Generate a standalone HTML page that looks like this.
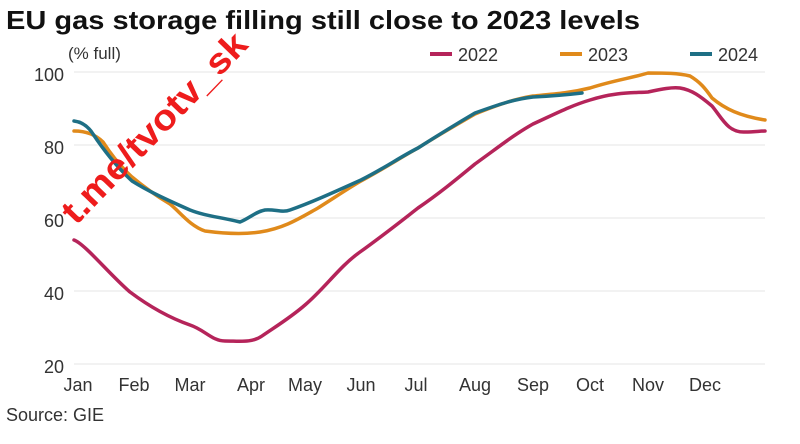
<!DOCTYPE html>
<html><head><meta charset="utf-8"><style>
body{margin:0;background:#fff;width:800px;height:439px;overflow:hidden;font-family:"Liberation Sans",sans-serif}
</style></head><body>
<svg width="800" height="439" xmlns="http://www.w3.org/2000/svg" font-family="Liberation Sans, sans-serif">
<text x="6" y="29" font-size="26" font-weight="bold" fill="#111" textLength="634" lengthAdjust="spacingAndGlyphs">EU gas storage filling still close to 2023 levels</text>
<text x="68" y="59" font-size="17" fill="#333">(% full)</text>
<g stroke="#e6e6e6" stroke-width="1">
<line x1="74" x2="765" y1="72" y2="72"/><line x1="74" x2="765" y1="145" y2="145"/><line x1="74" x2="765" y1="218" y2="218"/><line x1="74" x2="765" y1="291" y2="291"/><line x1="74" x2="765" y1="364" y2="364"/>
</g>
<g font-size="18" fill="#333" text-anchor="end">
<text x="64" y="81">100</text><text x="64" y="154">80</text><text x="64" y="227">60</text><text x="64" y="300">40</text><text x="64" y="373">20</text>
</g>
<g font-size="18" fill="#333" text-anchor="middle">
<text x="78" y="391">Jan</text><text x="134" y="391">Feb</text><text x="190" y="391">Mar</text><text x="251" y="391">Apr</text><text x="305" y="391">May</text><text x="361" y="391">Jun</text><text x="416" y="391">Jul</text><text x="475" y="391">Aug</text><text x="533" y="391">Sep</text><text x="590" y="391">Oct</text><text x="648" y="391">Nov</text><text x="705" y="391">Dec</text>
</g>
<text x="6" y="421" font-size="18" fill="#333">Source: GIE</text>
<g font-size="18" fill="#333">
<line x1="430" x2="452" y1="54" y2="54" stroke="#b5245a" stroke-width="4"/><text x="458" y="61">2022</text>
<line x1="560" x2="582" y1="54" y2="54" stroke="#e08a1b" stroke-width="4"/><text x="588" y="61">2023</text>
<line x1="690" x2="712" y1="54" y2="54" stroke="#1e6f85" stroke-width="4"/><text x="718" y="61">2024</text>
</g>
<g fill="none" stroke-width="3.5" stroke-linejoin="round" stroke-linecap="round">
<path stroke="#b5245a" d="M74,240 C85,244 110,275 130,292 C150,307 170,318 190,325 C205,330 212,341 225,341 C240,341 252,343 262,336 C275,327 290,318 305,305 C325,288 340,266 360,252 C385,234 400,222 418,208 C440,193 458,178 475,164 C500,146 515,134 533,124 C555,114 570,106 590,100 C615,92 632,93 648,92 C662,89 672,87 680,88 C692,90 700,96 712,106 C722,118 728,133 745,132 C755,132 760,131 765,131"/>
<path stroke="#e08a1b" d="M74,131 C85,131 95,134 103,142 C112,156 122,168 132,177 C145,188 160,198 170,204 C180,212 190,226 205,231 C220,233 240,235 260,232 C285,228 300,218 318,208 C340,194 352,186 361,181 C385,168 400,158 418,148 C440,134 458,124 475,114 C500,104 515,99 533,96 C555,94 570,93 590,88 C615,80 632,78 648,73 C665,73 678,73 690,76 C700,82 705,88 712,98 C725,109 740,116 765,120"/>
<path stroke="#1e6f85" d="M74,121 C82,122 88,126 93,134 C105,152 118,168 132,181 C148,191 165,199 190,210 C205,216 220,217 240,222 C250,218 255,212 265,210 C275,209 282,213 290,210 C310,203 330,194 361,180 C385,168 400,157 418,148 C440,134 458,123 475,113 C500,104 515,99 533,97 C552,96 565,95 582,93"/>
</g>
<text transform="translate(76,226) rotate(-46)" font-size="36" font-weight="bold" fill="#ee1c1c" textLength="250" lengthAdjust="spacingAndGlyphs">t.me/tvotv_sk</text>
</svg>
</body></html>
